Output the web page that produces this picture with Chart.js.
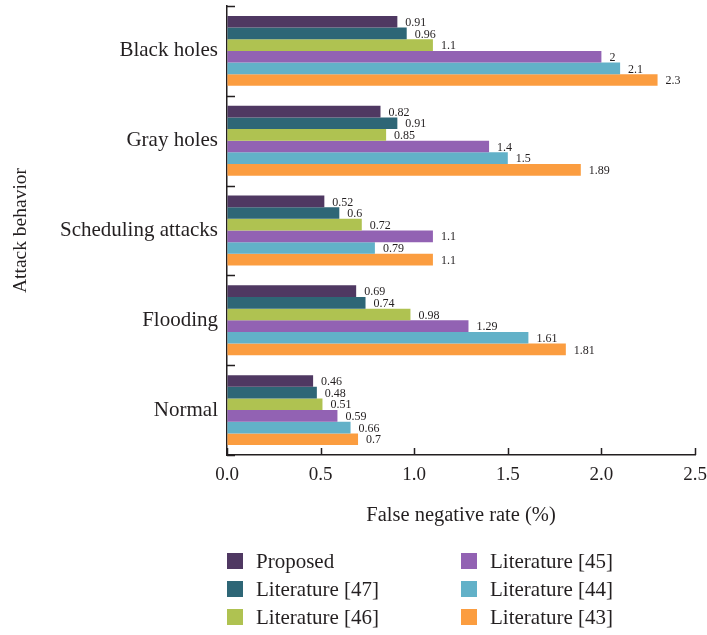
<!DOCTYPE html>
<html>
<head>
<meta charset="utf-8">
<script src="https://cdn.jsdelivr.net/npm/chart.js@4/dist/chart.umd.min.js"></script>
<style>
  html, body { margin: 0; padding: 0; background: #ffffff; }
  #wrap { width: 707px; height: 635px; position: relative; }
</style>
</head>
<body>
<div id="wrap"><canvas id="c" width="707" height="635"></canvas></div>
<script>
const categories = ["Black holes", "Gray holes", "Scheduling attacks", "Flooding", "Normal"];
const seriesNames = ["Proposed", "Literature [47]", "Literature [46]", "Literature [45]", "Literature [44]", "Literature [43]"];
const proposed = [0.91, 0.82, 0.52, 0.69, 0.46];
const lit47 = [0.96, 0.91, 0.6, 0.74, 0.48];
const lit46 = [1.1, 0.85, 0.72, 0.98, 0.51];
const lit45 = [2, 1.4, 1.1, 1.29, 0.59];
const lit44 = [2.1, 1.5, 0.79, 1.61, 0.66];
const lit43 = [2.3, 1.89, 1.1, 1.81, 0.7];
const xTicks = [0, 0.5, 1.0, 1.5, 2.0, 2.5];
const colors = ["#4f3862", "#2e6676", "#afc251", "#9262b3", "#62b1c8", "#fb9d40"];

const seriesValues = [proposed, lit47, lit46, lit45, lit44, lit43];
const FONT = "'Liberation Serif', 'DejaVu Serif', serif";
const INK = "#231f20";

const datasets = seriesNames.map((name, i) => ({
  label: name,
  data: seriesValues[i],
  backgroundColor: colors[i],
  borderWidth: 0,
  categoryPercentage: 0.778,
  barPercentage: 1.0
}));

const decorPlugin = {
  id: 'decor',
  afterDatasetsDraw(chart) {
    const ctx = chart.ctx;
    ctx.save();
    ctx.font = "12px " + FONT;
    ctx.fillStyle = INK;
    ctx.textAlign = 'left';
    ctx.textBaseline = 'middle';
    chart.data.datasets.forEach((ds, di) => {
      const meta = chart.getDatasetMeta(di);
      meta.data.forEach((el, i) => {
        ctx.fillText(String(ds.data[i]), el.x + 8, el.y + 1);
      });
    });
    const xs = chart.scales.x, ys = chart.scales.y;
    const ca = chart.chartArea;
    ctx.strokeStyle = INK;
    ctx.lineWidth = 1.5;
    ctx.beginPath();
    xTicks.forEach(v => {
      const px = Math.round(xs.getPixelForValue(v)) + 0.5;
      ctx.moveTo(px, ca.bottom);
      ctx.lineTo(px, ca.bottom - 7);
    });
    for (let i = 0; i <= categories.length; i++) {
      const py = Math.round(ys.getPixelForValue(i - 0.5)) + 0.5;
      ctx.moveTo(ca.left, py);
      ctx.lineTo(ca.left + 8, py);
    }
    ctx.stroke();
    ctx.restore();
  },
  afterDraw(chart) {
    const ctx = chart.ctx;
    const ca = chart.chartArea;
    ctx.save();
    ctx.font = "21px " + FONT;
    ctx.textAlign = 'left';
    ctx.textBaseline = 'middle';
    const colX = [ca.left, ca.left + 234];
    const rowY = [561, 589, 617];
    seriesNames.forEach((name, i) => {
      const col = Math.floor(i / 3), row = i % 3;
      const bx = colX[col], cy = rowY[row];
      ctx.fillStyle = colors[i];
      ctx.fillRect(bx, cy - 8, 16, 16);
      ctx.fillStyle = INK;
      ctx.fillText(name, bx + 29, cy + 1);
    });
    ctx.restore();
  }
};

new Chart(document.getElementById('c'), {
  type: 'bar',
  data: { labels: categories, datasets },
  options: {
    indexAxis: 'y',
    responsive: false,
    animation: false,
    layout: { padding: { top: 6, right: 12, bottom: 100, left: 0 } },
    plugins: { legend: { display: false }, tooltip: { enabled: false } },
    scales: {
      x: {
        min: 0, max: 2.5,
        afterBuildTicks(scale) { scale.ticks = xTicks.map(v => ({ value: v })); },
        afterFit(scale) { scale.height = 80; scale.paddingLeft = 0; scale.paddingRight = 0; },
        border: { display: true, color: INK, width: 1.5 },
        grid: { display: true, drawOnChartArea: false, drawTicks: false },
        ticks: {
          padding: 9,
          color: INK,
          font: { family: FONT, size: 19 },
          callback: (v) => Number(v).toFixed(1)
        },
        title: {
          display: true,
          text: "False negative rate (%)",
          color: INK,
          font: { family: FONT, size: 20.5 },
          padding: { top: 0, bottom: 7 }
        }
      },
      y: {
        afterFit(scale) { scale.width = 227; scale.paddingTop = 0; scale.paddingBottom = 0; },
        border: { display: true, color: INK, width: 1.5 },
        grid: { display: true, drawOnChartArea: false, drawTicks: false, offset: true },
        ticks: {
          padding: 9,
          color: INK,
          font: { family: FONT, size: 21 }
        },
        title: {
          display: true,
          text: "Attack behavior",
          color: INK,
          font: { family: FONT, size: 19.5 },
          padding: { top: 9, bottom: 0 }
        }
      }
    }
  },
  plugins: [decorPlugin]
});
</script>
</body>
</html>
